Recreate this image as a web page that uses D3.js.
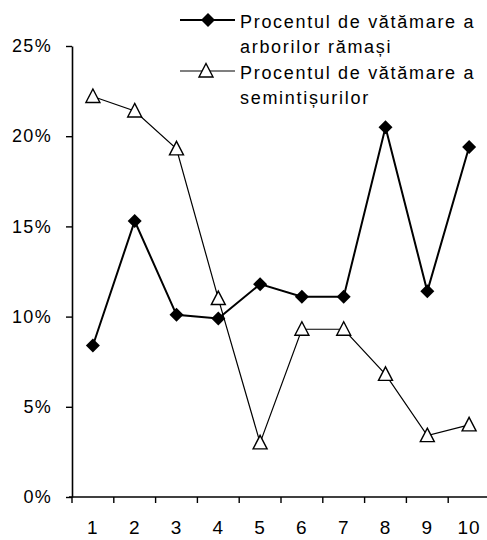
<!DOCTYPE html>
<html>
<head>
<meta charset="utf-8">
<script src="https://cdn.jsdelivr.net/npm/d3@7"></script>
<style>
  body { margin: 0; background: #fff; }
  text { font-family: "Liberation Sans", Arial, sans-serif; fill: #000; }
</style>
</head>
<body>
<div id="chart"></div>
<script>
// Data
const categories = ["1", "2", "3", "4", "5", "6", "7", "8", "9", "10"];
const arbori = [0.084, 0.153, 0.101, 0.099, 0.118, 0.111, 0.111, 0.205, 0.114, 0.194];
const seminte = [0.222, 0.214, 0.193, 0.110, 0.030, 0.093, 0.093, 0.068, 0.034, 0.040];
const yTicks = [0, 0.05, 0.10, 0.15, 0.20, 0.25];
const legendArbori = ["Procentul de vătămare a", "arborilor rămași"];
const legendSeminte = ["Procentul de vătămare a", "semintișurilor"];

const width = 487, height = 540;
const margin = { top: 46, right: -3, bottom: 43, left: 72 };

let svg = d3.select("#chart")
    .append("svg")
    .attr("width", width)
    .attr("height", height);

let xScale = d3.scaleBand()
    .domain(categories)
    .range([margin.left, width - margin.right]);

let yScale = d3.scaleLinear()
    .domain([0, 0.25])
    .range([height - margin.bottom, margin.top]);

let xc = d => xScale(d) + xScale.bandwidth() / 2;

// y axis
let yAxis = d3.axisLeft(yScale)
    .tickValues(yTicks)
    .tickFormat(d3.format(".0%"))
    .tickSizeInner(6)
    .tickSizeOuter(0)
    .tickPadding(14);

let yg = svg.append("g")
    .attr("transform", `translate(${margin.left}, 0)`)
    .call(yAxis);
yg.select(".domain").attr("stroke", "#000").attr("stroke-width", 1.6);
yg.selectAll(".tick line").attr("stroke", "#000").attr("stroke-width", 1.4);
yg.selectAll(".tick text")
    .attr("font-size", "18px")
    .attr("letter-spacing", "1.3px")
    .attr("font-family", "Liberation Sans, Arial, sans-serif")
    .attr("fill", "#000");

// x axis (ticks on band edges)
let xAxis = d3.axisBottom(xScale)
    .tickSize(0)
    .tickPadding(24);

let xg = svg.append("g")
    .attr("transform", `translate(0, ${height - margin.bottom})`)
    .call(xAxis);
xg.select(".domain").remove();
xg.append("line")
    .attr("x1", margin.left - 3)
    .attr("x2", width)
    .attr("stroke", "#000")
    .attr("stroke-width", 1.6);
xg.selectAll(".edge")
    .data(categories)
    .enter()
    .append("line")
    .attr("x1", d => xScale(d))
    .attr("x2", d => xScale(d))
    .attr("y1", 0)
    .attr("y2", 6)
    .attr("stroke", "#000")
    .attr("stroke-width", 1.4);
xg.selectAll(".tick text")
    .attr("font-size", "19px")
    .attr("letter-spacing", "1px")
    .attr("font-family", "Liberation Sans, Arial, sans-serif")
    .attr("fill", "#000");

// marker paths
function diamondPath(x, y, r) {
    return `M${x},${y - r}L${x + r},${y}L${x},${y + r}L${x - r},${y}Z`;
}
function trianglePath(x, y) {
    return `M${x},${y - 7.5}L${x + 7},${y + 6}L${x - 7},${y + 6}Z`;
}

let line = d3.line()
    .x((d, i) => xc(categories[i]))
    .y(d => yScale(d));

// series: seedlings (triangles)
svg.append("path")
    .datum(seminte)
    .attr("d", line)
    .attr("fill", "none")
    .attr("stroke", "#000")
    .attr("stroke-width", 1.2);

// series: remaining trees (diamonds)
svg.append("path")
    .datum(arbori)
    .attr("d", line)
    .attr("fill", "none")
    .attr("stroke", "#000")
    .attr("stroke-width", 2);

svg.append("g").selectAll("path")
    .data(seminte)
    .enter()
    .append("path")
    .attr("d", (d, i) => trianglePath(xc(categories[i]), yScale(d)))
    .attr("fill", "#fff")
    .attr("stroke", "#000")
    .attr("stroke-width", 1.4);

svg.append("g").selectAll("path")
    .data(arbori)
    .enter()
    .append("path")
    .attr("d", (d, i) => diamondPath(xc(categories[i]), yScale(d), 7))
    .attr("fill", "#000");

// legend
let legend = svg.append("g");

legend.append("line")
    .attr("x1", 180).attr("x2", 235)
    .attr("y1", 20).attr("y2", 20)
    .attr("stroke", "#000").attr("stroke-width", 2);
legend.append("path")
    .attr("d", diamondPath(208, 20, 7))
    .attr("fill", "#000");

legend.append("line")
    .attr("x1", 180).attr("x2", 235)
    .attr("y1", 71).attr("y2", 71)
    .attr("stroke", "#000").attr("stroke-width", 1.2);
legend.append("path")
    .attr("d", trianglePath(206, 71))
    .attr("fill", "#fff")
    .attr("stroke", "#000")
    .attr("stroke-width", 1.4);

let legendLines = [
    { t: legendArbori[0], y: 28 },
    { t: legendArbori[1], y: 53 },
    { t: legendSeminte[0], y: 79 },
    { t: legendSeminte[1], y: 104 }
];
legend.selectAll("text")
    .data(legendLines)
    .enter()
    .append("text")
    .attr("x", 240)
    .attr("y", d => d.y)
    .attr("font-size", "18px")
    .attr("letter-spacing", "1.7px")
    .text(d => d.t);
</script>
</body>
</html>
